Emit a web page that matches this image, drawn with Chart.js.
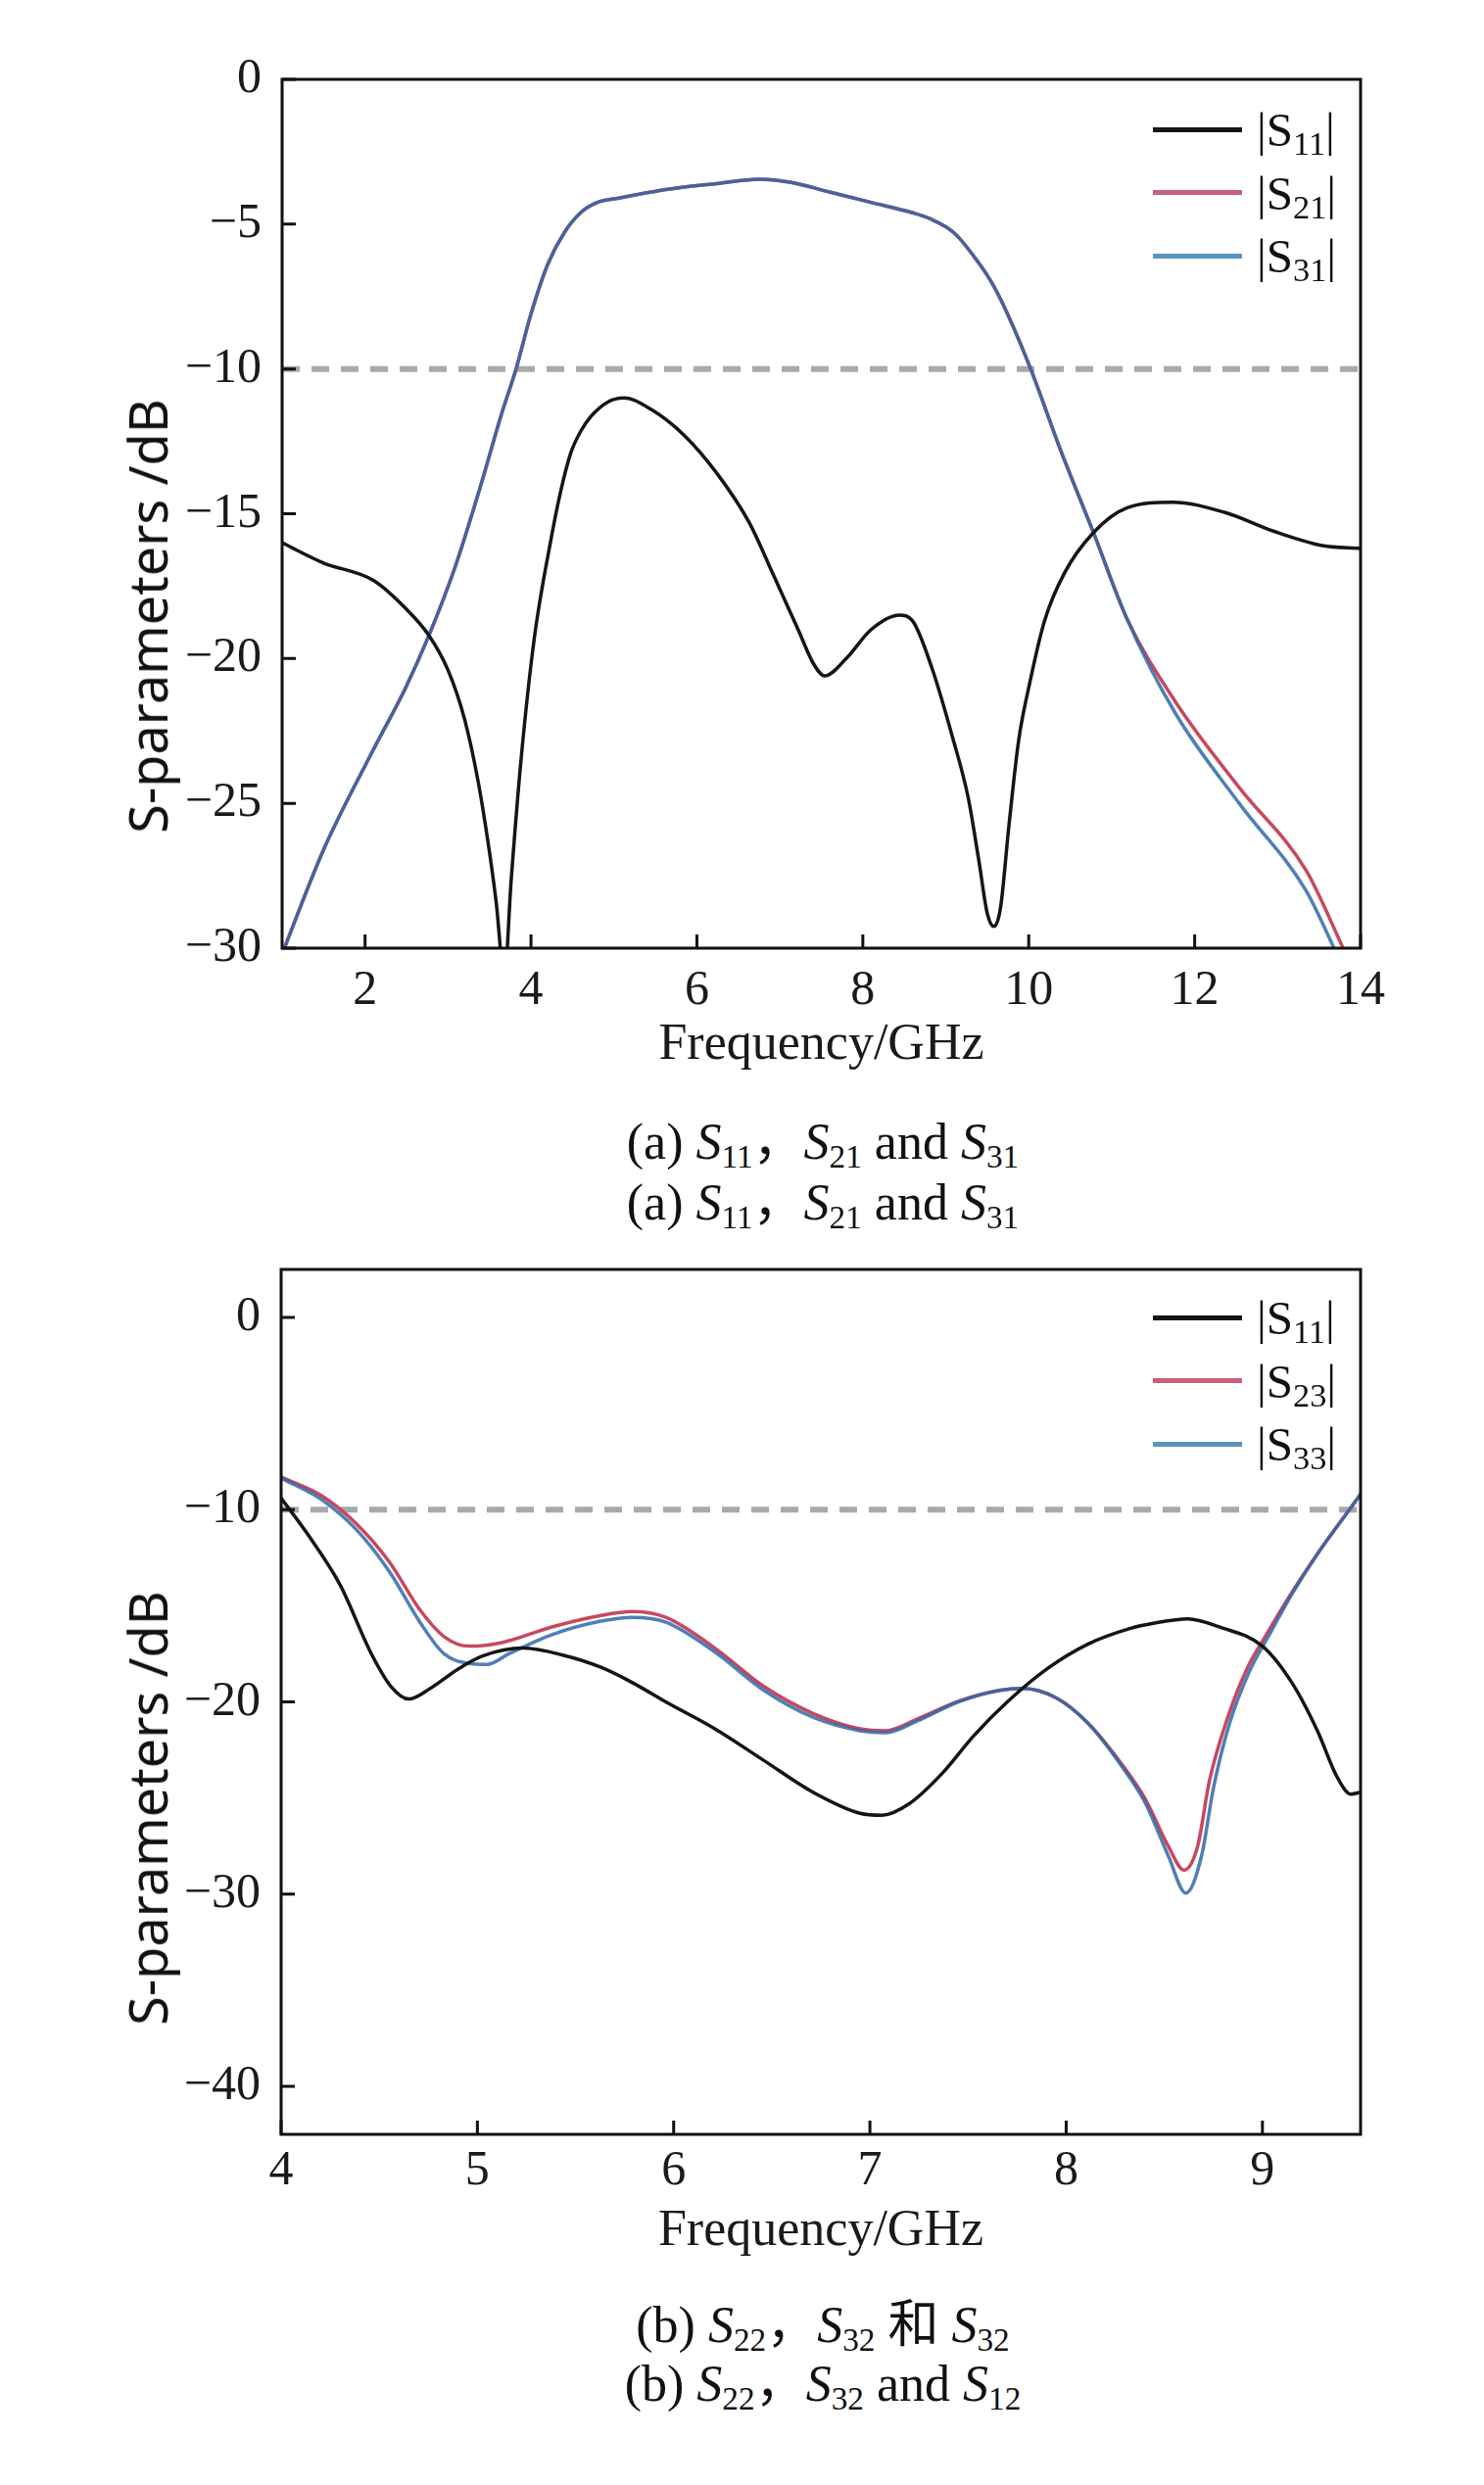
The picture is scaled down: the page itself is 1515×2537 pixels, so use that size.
<!DOCTYPE html>
<html>
<head>
<meta charset="utf-8">
<script src="https://cdn.jsdelivr.net/npm/chart.js@4.4.1/dist/chart.umd.min.js"></script>
<style>
  html, body { margin: 0; padding: 0; background: #fff; }
  #page { position: relative; width: 1515px; height: 2537px; overflow: hidden; }
  canvas { position: absolute; left: 0; }
  .ytitle {
    position: absolute; font-family: "Noto Sans", sans-serif; font-size: 54px; color: #111;
    white-space: nowrap; transform: translate(-50%, -50%) rotate(-90deg);
  }
  .legend-row { position: absolute; left: 1177px; height: 0; }
  .legend-line { position: absolute; left: 0; top: -2.5px; width: 91px; height: 5px; }
  .legend-text {
    position: absolute; left: 106px; top: 0; transform: translateY(-50%);
    font-family: "Liberation Serif", serif; font-size: 49px; color: #111; white-space: nowrap; line-height: 1;
  }
  .legend-text sub { font-size: 0.7em; }
  .caption {
    position: absolute; left: 840px; transform: translate(-50%, -50%);
    font-family: "Liberation Serif", "Noto Sans CJK SC", serif; font-size: 52px; color: #111; white-space: nowrap;
  }
  sub { font-size: 0.64em; vertical-align: -0.28em; line-height: 0; }
</style>
</head>
<body>
<div id="page">
  <canvas id="chartA" width="1515" height="1110" style="top:0;width:1515px;height:1110px"></canvas>
  <canvas id="chartB" width="1515" height="1130" style="top:1200px;width:1515px;height:1130px"></canvas>

  <div class="ytitle" style="left:150px;top:629px">S-parameters /dB</div>
  <div class="ytitle" style="left:150px;top:1846px">S-parameters /dB</div>

  <div id="legendA"></div>
  <div id="legendB"></div>

  <div class="caption" style="top:1160px">(a) <i>S</i><sub>11</sub>，<i>S</i><sub>21</sub> and <i>S</i><sub>31</sub></div>
  <div class="caption" style="top:1222px">(a) <i>S</i><sub>11</sub>，<i>S</i><sub>21</sub> and <i>S</i><sub>31</sub></div>
  <div class="caption" style="top:2368px">(b) <i>S</i><sub>22</sub>，<i>S</i><sub>32</sub> 和 <i>S</i><sub>32</sub></div>
  <div class="caption" style="top:2428px">(b) <i>S</i><sub>22</sub>，<i>S</i><sub>32</sub> and <i>S</i><sub>12</sub></div>
</div>

<script>
// ---- (a) S11, S21, S31 : frequency in GHz, magnitude in dB ----
const freqA11 = [1.0, 1.5, 2.1, 2.5, 2.77, 3.0, 3.2, 3.36, 3.48, 3.58, 3.68, 3.76, 3.88, 4.04, 4.24,
  4.36, 4.48, 4.6, 4.72, 4.92, 5.12, 5.45, 5.85, 6.24, 6.63, 6.92, 7.22, 7.41, 7.54, 7.8, 8.1, 8.44, 8.6, 8.83,
  9.08, 9.27, 9.40, 9.50, 9.58, 9.66, 9.76, 9.88, 10.0, 10.19, 10.43, 10.78, 11.18, 11.73, 12.36, 12.95, 13.54, 14.0];
const s11A = [-16.0, -16.7, -17.3, -18.3, -19.2, -20.4, -22.1, -24.2, -26.3, -28.4, -31.0, -27.7, -23.5, -19.3, -15.9,
  -14.2, -12.9, -12.15, -11.65, -11.15, -11.0, -11.4, -12.3, -13.6, -15.3, -17.1, -19.0, -20.2, -20.6, -20.0, -19.0, -18.5, -18.7, -20.3,
  -22.7, -24.8, -27.0, -28.8, -29.25, -28.6, -25.8, -22.8, -21.0, -18.7, -17.05, -15.65, -14.8, -14.6, -14.95, -15.6, -16.1, -16.2];

const freqA21 = [1.0, 1.5, 2.09, 2.49, 2.77, 3.09, 3.4, 3.64, 3.82, 4.0, 4.2, 4.4, 4.6, 4.8, 5.06,
  5.65, 6.24, 6.75, 7.12, 7.61, 8.1, 8.59, 8.8, 9.1, 9.4, 9.57, 9.76, 10.03, 10.39, 10.78, 11.18,
  11.77, 12.55, 13.34, 13.79, 14.0];
const s21A = [-30.2, -26.6, -23.2, -21.0, -19.2, -16.8, -13.97, -11.6, -10.0, -8.1, -6.4, -5.3, -4.6, -4.25, -4.1,
  -3.8, -3.6, -3.45, -3.55, -3.9, -4.25, -4.6, -4.8, -5.3, -6.35, -7.1, -8.2, -10.05, -12.85, -15.65, -18.6,
  -21.5, -24.5, -27.3, -30.0, -31.3];

const freqA31 = [1.0, 1.5, 2.09, 2.49, 2.77, 3.09, 3.4, 3.64, 3.82, 4.0, 4.2, 4.4, 4.6, 4.8, 5.06,
  5.65, 6.24, 6.75, 7.12, 7.61, 8.1, 8.59, 8.8, 9.1, 9.4, 9.57, 9.76, 10.03, 10.39, 10.78, 11.18,
  11.77, 12.55, 13.34, 13.68, 14.0];
const s31A = [-30.2, -26.6, -23.2, -21.0, -19.2, -16.8, -13.97, -11.6, -10.0, -8.1, -6.4, -5.3, -4.6, -4.25, -4.1,
  -3.8, -3.6, -3.45, -3.55, -3.9, -4.25, -4.6, -4.8, -5.3, -6.35, -7.1, -8.2, -10.05, -12.85, -15.65, -18.6,
  -21.9, -25.05, -28.0, -30.0, -32.0];

const xTicksA = [2, 4, 6, 8, 10, 12, 14];
const yTicksA = [0, -5, -10, -15, -20, -25, -30];
const legendA = ['11', '21', '31'];

// ---- (b) S11, S23, S33 ----
const freqB11 = [4.0, 4.13, 4.30, 4.46, 4.56, 4.65, 4.76, 4.90, 5.03, 5.23, 5.43, 5.63, 5.79, 5.96, 6.21,
  6.46, 6.71, 6.95, 7.06, 7.2, 7.37, 7.53, 7.70, 7.90, 8.11, 8.32, 8.45, 8.62, 8.78, 9.0,
  9.15, 9.28, 9.38, 9.45, 9.5];
const s11B = [-9.4, -11.2, -13.9, -17.5, -19.2, -19.85, -19.3, -18.3, -17.6, -17.2, -17.55, -18.2, -19.0, -20.0, -21.4,
  -23.05, -24.7, -25.8, -25.9, -25.3, -23.7, -21.75, -20.0, -18.3, -17.0, -16.2, -15.9, -15.68, -16.1, -17.1,
  -19.0, -21.5, -23.9, -24.8, -24.7];

const freqB22 = [4.0, 4.21, 4.38, 4.55, 4.71, 4.83, 4.96, 5.13, 5.38, 5.63, 5.79, 5.96, 6.21, 6.46, 6.71,
  6.95, 7.08, 7.24, 7.45, 7.66, 7.78, 7.95, 8.11, 8.28, 8.40, 8.52, 8.60, 8.67, 8.73, 8.82,
  8.92, 9.02, 9.15, 9.28, 9.40, 9.5];
const s22B = [-8.3, -9.3, -10.7, -12.7, -15.25, -16.6, -17.1, -16.9, -16.1, -15.5, -15.3, -15.6, -17.2, -19.2, -20.6,
  -21.4, -21.5, -20.9, -19.97, -19.4, -19.3, -19.8, -21.1, -23.2, -25.0, -27.5, -28.75, -27.5, -24.1, -20.9,
  -18.3, -16.5, -14.3, -12.3, -10.6, -9.2];

const freqB33 = [4.0, 4.21, 4.38, 4.55, 4.71, 4.83, 4.96, 5.05, 5.16, 5.38, 5.63, 5.79, 5.96, 6.21, 6.46,
  6.71, 6.95, 7.08, 7.24, 7.45, 7.66, 7.78, 7.95, 8.11, 8.28, 8.40, 8.52, 8.61, 8.69, 8.75,
  8.83, 8.93, 9.03, 9.15, 9.28, 9.40, 9.5];
const s33B = [-8.35, -9.5, -11.0, -13.2, -15.9, -17.5, -18.0, -18.05, -17.5, -16.5, -15.8, -15.6, -15.85, -17.4, -19.4,
  -20.8, -21.5, -21.6, -21.0, -20.0, -19.4, -19.3, -19.8, -21.1, -23.3, -25.2, -28.0, -29.95, -28.0, -24.5,
  -21.2, -18.5, -16.6, -14.4, -12.3, -10.6, -9.2];

const xTicksB = [4, 5, 6, 7, 8, 9];
const yTicksB = [0, -10, -20, -30, -40];
const legendB = ['11', '23', '33'];

const refLevel = -10;  // dashed -10 dB line
const colors = ['#151515', '#c8475f', 'rgba(48,104,168,0.85)'];
const legendColors = ['#151515', '#c9607a', '#5a94bf'];

function points(xs, ys) {
  return xs.map((x, i) => ({ x: x, y: ys[i] }));
}

function dbLabel(v) {
  return v === 0 ? '0' : '\u2212' + Math.abs(v);
}

// box frame + inward tick marks, like the original plot
const frameTicks = {
  id: 'frameTicks',
  afterDatasetsDraw(chart) {
    const { ctx, chartArea: a, scales: { x, y } } = chart;
    ctx.save();
    ctx.strokeStyle = '#111';
    ctx.lineWidth = 3;
    ctx.strokeRect(a.left, a.top, a.right - a.left, a.bottom - a.top);
    ctx.beginPath();
    x.ticks.forEach(t => {
      const px = x.getPixelForValue(t.value);
      ctx.moveTo(px, a.bottom);
      ctx.lineTo(px, a.bottom - 14);
    });
    y.ticks.forEach(t => {
      const py = y.getPixelForValue(t.value);
      ctx.moveTo(a.left, py);
      ctx.lineTo(a.left + 14, py);
    });
    ctx.stroke();
    ctx.restore();
  }
};

function curve(label, xs, ys, color, order) {
  return {
    label: label, data: points(xs, ys), borderColor: color, borderWidth: 3.5,
    pointRadius: 0, fill: false, cubicInterpolationMode: 'monotone', order: order
  };
}

function makeChart(id, o) {
  const tickFont = { family: 'Liberation Serif', size: 50 };
  return new Chart(document.getElementById(id), {
    type: 'line',
    data: {
      datasets: [
        curve('|S' + o.names[0] + '|', o.series[0][0], o.series[0][1], colors[0], 0),
        curve('|S' + o.names[1] + '|', o.series[1][0], o.series[1][1], colors[1], 2),
        curve('|S' + o.names[2] + '|', o.series[2][0], o.series[2][1], colors[2], 1),
        {
          label: '-10 dB', data: [{ x: o.xMin, y: refLevel }, { x: o.xMax, y: refLevel }],
          borderColor: '#a9a9a9', borderWidth: 6, borderDash: [18, 12], pointRadius: 0,
          tension: 0, fill: false, order: 3
        }
      ]
    },
    options: {
      responsive: false,
      devicePixelRatio: 1,
      animation: false,
      layout: { padding: { top: o.padTop, right: 126, left: 0, bottom: 0 } },
      plugins: { legend: { display: false }, tooltip: { enabled: false } },
      scales: {
        x: {
          type: 'linear', min: o.xMin, max: o.xMax,
          afterBuildTicks: s => { s.ticks = o.xTicks.map(v => ({ value: v })); },
          afterFit: s => { s.height = o.xHeight; },
          grid: { display: false, drawTicks: false },
          border: { display: false },
          ticks: { font: tickFont, color: '#1a1a1a', padding: o.xPad, maxRotation: 0, autoSkip: false },
          title: {
            display: true, text: 'Frequency/GHz', color: '#1a1a1a',
            font: { family: 'Liberation Serif', size: 52, lineHeight: 1.2 },
            padding: { top: 0, bottom: o.titlePad }
          }
        },
        y: {
          type: 'linear', min: o.yMin, max: o.yMax,
          afterBuildTicks: s => { s.ticks = o.yTicks.map(v => ({ value: v })); },
          afterFit: s => { s.width = o.left; },
          grid: { display: false, drawTicks: false },
          border: { display: false },
          ticks: { font: tickFont, color: '#1a1a1a', padding: 21, callback: dbLabel }
        }
      }
    },
    plugins: [frameTicks]
  });
}

function buildLegend(id, names, top) {
  const box = document.getElementById(id);
  names.forEach((n, i) => {
    const row = document.createElement('div');
    row.className = 'legend-row';
    row.style.top = (top + i * 64.5) + 'px';
    row.innerHTML = '<div class="legend-line" style="background:' + legendColors[i] + '"></div>' +
      '<div class="legend-text">|S<sub>' + n + '</sub>|</div>';
    box.appendChild(row);
  });
}

makeChart('chartA', {
  names: legendA,
  series: [[freqA11, s11A], [freqA21, s21A], [freqA31, s31A]],
  xMin: 1, xMax: 14, yMin: -30, yMax: 0,
  xTicks: xTicksA, yTicks: yTicksA,
  padTop: 81, left: 288, xHeight: 142, xPad: 14, titlePad: 11
});

makeChart('chartB', {
  names: legendB,
  series: [[freqB11, s11B], [freqB22, s22B], [freqB33, s33B]],
  xMin: 4, xMax: 9.5, yMin: -42.5, yMax: 2.5,
  xTicks: xTicksB, yTicks: yTicksB,
  padTop: 96, left: 287, xHeight: 151, xPad: 8, titlePad: 20
});

buildLegend('legendA', legendA, 132);
buildLegend('legendB', legendB, 1345);
</script>
</body>
</html>
